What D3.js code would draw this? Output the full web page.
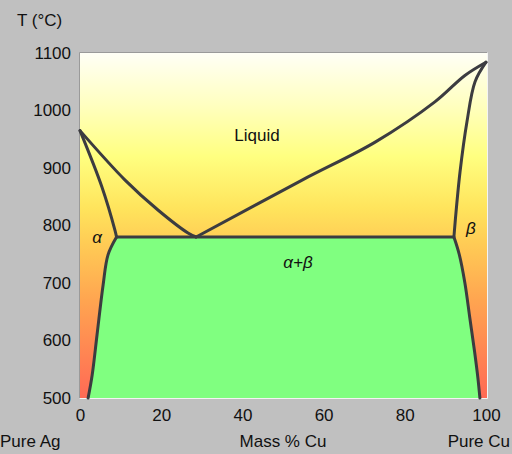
<!DOCTYPE html>
<html>
<head>
<meta charset="utf-8">
<script src="https://cdn.jsdelivr.net/npm/d3@7"></script>
<style>
  html, body { margin: 0; padding: 0; background: #c0c0c0; }
  svg { display: block; }
  text { font-family: "Liberation Sans", Arial, sans-serif; fill: #111; }
</style>
</head>
<body>
<svg id="chart" width="512" height="454"></svg>
<script>
// Ag–Cu binary phase diagram: composition (mass % Cu) vs temperature (°C)
const tempTicks = [500, 600, 700, 800, 900, 1000, 1100];
const compTicks = [0, 20, 40, 60, 80, 100];
const eutecticT = 780;

// Boundary lines as [mass % Cu, T °C]
const liquidusAg = [[0, 965], [11.1, 879], [19.2, 827], [26.6, 787], [28.6, 780]];
const liquidusCu = [[28.6, 780], [54.7, 879], [72.7, 945], [87.4, 1015], [94.8, 1061], [100, 1084]];
const solidusAlpha = [[0, 965], [5.4, 867], [8.6, 792], [9.0, 780]];
const solidusBeta = [[100, 1084], [97.3, 1050], [95.3, 980], [93.6, 893], [92.4, 806], [92.1, 780]];
const solvusAlpha = [[9.0, 780], [6.9, 749], [5.7, 697], [4.2, 610], [3.0, 540], [2.0, 500]];
const solvusBeta = [[92.1, 780], [93.4, 750], [94.8, 700], [96.0, 640], [97.2, 580], [98.0, 535], [98.5, 500]];

// Phase-field names with their anchor points [mass % Cu, T °C]
const phaseNames = ["Liquid", "α", "β", "α+β"];
const phaseAnchors = [[43.6, 957], [4.2, 780], [96.3, 794], [53.7, 736]];

const svg = d3.select("#chart");
const plot = { left: 80, right: 486, top: 53, bottom: 398 };

const x = d3.scaleLinear().domain([0, 100]).range([plot.left, plot.right]);
const y = d3.scaleLinear().domain([500, 1100]).range([plot.bottom, plot.top]);

// Background gradient of the plot area
const defs = svg.append("defs");
const grad = defs.append("linearGradient")
  .attr("id", "heat").attr("x1", 0).attr("y1", 0).attr("x2", 0).attr("y2", 1);
[[0, "#fffff6"], [0.15, "#ffffc0"], [0.3, "#ffff80"], [0.45, "#ffe45c"],
 [0.55, "#ffcc55"], [0.72, "#ffa450"], [1, "#ff6a55"]]
  .forEach(([o, c]) => grad.append("stop").attr("offset", o).attr("stop-color", c));

svg.append("rect")
  .attr("x", plot.left).attr("y", plot.top)
  .attr("width", plot.right - plot.left + 1).attr("height", plot.bottom - plot.top)
  .attr("fill", "url(#heat)");

// Inset bevel frame
svg.append("line").attr("x1", plot.left - 0.5).attr("x2", plot.right + 1.5)
  .attr("y1", plot.top - 0.5).attr("y2", plot.top - 0.5).attr("stroke", "#9a9a9a");
svg.append("line").attr("x1", plot.left - 0.5).attr("x2", plot.left - 0.5)
  .attr("y1", plot.top - 0.5).attr("y2", plot.bottom + 0.5).attr("stroke", "#9a9a9a");
svg.append("line").attr("x1", plot.left - 0.5).attr("x2", plot.right + 1.5)
  .attr("y1", plot.bottom + 0.5).attr("y2", plot.bottom + 0.5).attr("stroke", "#f4f4f4");
svg.append("line").attr("x1", plot.right + 1.5).attr("x2", plot.right + 1.5)
  .attr("y1", plot.top - 0.5).attr("y2", plot.bottom + 0.5).attr("stroke", "#f4f4f4");

const line = d3.line().x(d => x(d[0])).y(d => y(d[1])).curve(d3.curveCatmullRom.alpha(0.5));

// α+β two-phase field, following the curved solvus lines
const sample = (pts) => {
  const p = document.createElementNS("http://www.w3.org/2000/svg", "path");
  p.setAttribute("d", line(pts));
  svg.node().appendChild(p);
  const L = p.getTotalLength(), out = [];
  for (let i = 0; i <= 60; i++) {
    const q = p.getPointAtLength(L * i / 60);
    out.push([q.x, q.y]);
  }
  p.remove();
  return out;
};
const fieldPts = sample(solvusAlpha).reverse().concat(sample(solvusBeta));
svg.append("path")
  .attr("d", d3.line()(fieldPts) + "Z")
  .attr("fill", "#80ff80");

// Phase boundaries
const boundaries = [liquidusAg, liquidusCu, solidusAlpha, solidusBeta, solvusAlpha, solvusBeta];
svg.append("g").selectAll("path").data(boundaries).join("path")
  .attr("d", line)
  .attr("fill", "none")
  .attr("stroke", "#3c3c40")
  .attr("stroke-width", 3)
  .attr("stroke-linejoin", "round")
  .attr("stroke-linecap", "round");

// Eutectic isotherm
svg.append("line")
  .attr("x1", x(solidusAlpha[solidusAlpha.length - 1][0]))
  .attr("x2", x(solidusBeta[solidusBeta.length - 1][0]))
  .attr("y1", y(eutecticT)).attr("y2", y(eutecticT))
  .attr("stroke", "#3c3c40").attr("stroke-width", 3);

// Axes
const yAxis = d3.axisLeft(y).tickValues(tempTicks).tickSize(0).tickPadding(9).tickFormat(d3.format("d"));
const gy = svg.append("g").attr("transform", `translate(${plot.left},0)`).call(yAxis);
gy.select(".domain").remove();
gy.selectAll("text").style("font-size", "17px")
  .style("font-family", '"Liberation Sans", Arial, sans-serif').attr("fill", "#111");

const xAxis = d3.axisBottom(x).tickValues(compTicks).tickSize(0).tickPadding(11).tickFormat(d3.format("d"));
const gx = svg.append("g").attr("transform", `translate(0,${plot.bottom})`).call(xAxis);
gx.select(".domain").remove();
gx.selectAll("text").style("font-size", "17px")
  .style("font-family", '"Liberation Sans", Arial, sans-serif').attr("fill", "#111");

// Axis titles
svg.append("text").attr("x", 17).attr("y", 26).style("font-size", "17px").text("T (°C)");
svg.append("text").attr("x", 0).attr("y", 447).style("font-size", "17px").text("Pure Ag");
svg.append("text").attr("x", 283).attr("y", 447).attr("text-anchor", "middle")
  .style("font-size", "17px").text("Mass % Cu");
svg.append("text").attr("x", 510).attr("y", 447).attr("text-anchor", "end")
  .style("font-size", "17px").text("Pure Cu");

// Phase-field names
svg.append("g").selectAll("text").data(phaseNames).join("text")
  .attr("x", (d, i) => x(phaseAnchors[i][0]))
  .attr("y", (d, i) => y(phaseAnchors[i][1]))
  .attr("text-anchor", "middle")
  .attr("dominant-baseline", "central")
  .style("font-size", "17px")
  .style("font-style", (d, i) => i === 0 ? "normal" : "italic")
  .text(d => d);
</script>
</body>
</html>
